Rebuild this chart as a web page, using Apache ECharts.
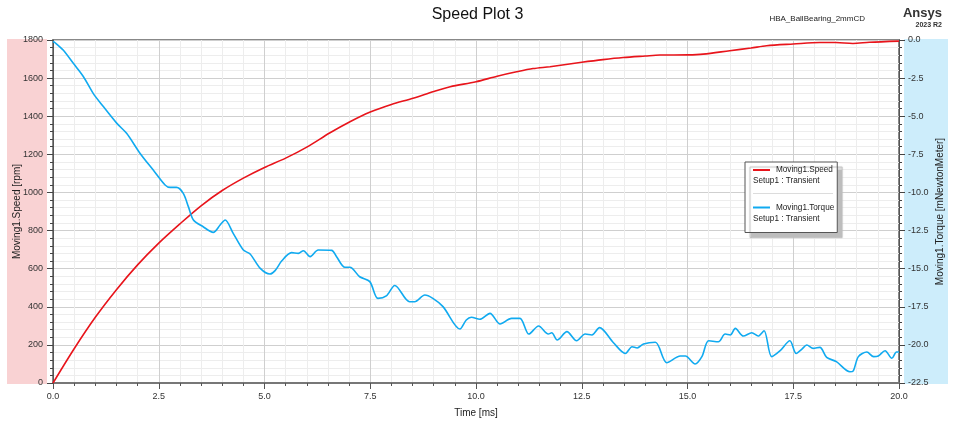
<!DOCTYPE html>
<html>
<head>
<meta charset="utf-8">
<script src="https://cdn.jsdelivr.net/npm/echarts@6/dist/echarts.min.js"></script>
<style>html,body{margin:0;padding:0;background:#fff}#c{width:955px;height:422px}</style>
</head>
<body>
<div id="c"></div>
<script>
// ---- data ----
const speedTime = [0,0.5,1,1.5,2,2.5,3,3.5,4,4.5,5,5.5,6,6.55,7.02,7.5,8,8.51,9,9.39,10,10.5,10.96,11.35,11.75,12.5,13,13.48,14,14.35,15,15.37,16,16.5,16.87,17.5,18.13,18.5,18.91,19.3,20];
const speedRpm = [0,180,345,490,620,734,835,930,1010,1075,1131,1180,1238,1313,1371,1422,1462,1494,1530,1555,1581,1610,1633,1650,1660,1683,1697,1708,1716,1721,1722,1726,1744,1758,1770,1779,1787,1787,1782,1788,1794];
const torqueTime = [0,0.05,0.24,0.48,0.72,0.95,1.19,1.51,1.74,2.06,2.37,2.65,2.77,2.92,3.08,3.2,3.32,3.55,3.79,3.95,4.07,4.26,4.5,4.66,4.9,5.13,5.25,5.41,5.64,5.8,5.92,6.08,6.27,6.59,6.7,6.9,7.02,7.25,7.49,7.68,7.88,8.08,8.43,8.55,8.79,8.98,9.22,9.62,9.77,9.89,10.09,10.33,10.57,10.84,11.04,11.25,11.48,11.71,11.79,11.92,12.15,12.38,12.58,12.74,12.92,13.25,13.53,13.69,13.81,13.96,14.24,14.51,14.83,14.95,15.18,15.34,15.5,15.73,15.89,16.01,16.13,16.32,16.52,16.67,16.81,16.99,17.19,17.42,17.57,17.7,17.82,17.97,18.13,18.29,18.52,18.84,18.92,19.04,19.24,19.4,19.51,19.67,19.83,19.94,20];
const torqueVal = [-0.1,-0.18,-0.66,-1.53,-2.41,-3.5,-4.37,-5.47,-6.12,-7.44,-8.53,-9.51,-9.67,-9.67,-10.06,-10.93,-11.81,-12.25,-12.62,-12.14,-11.81,-12.68,-13.78,-14.04,-14.98,-15.35,-15.13,-14.48,-13.95,-14.0,-13.82,-14.21,-13.78,-13.8,-14.2,-14.91,-14.91,-15.53,-15.85,-16.95,-16.79,-16.1,-17.17,-17.17,-16.73,-16.95,-17.49,-18.96,-18.37,-18.19,-18.32,-17.93,-18.63,-18.26,-18.26,-19.29,-18.76,-19.29,-19.2,-19.68,-19.13,-19.73,-19.29,-19.35,-18.87,-19.86,-20.56,-20.12,-20.2,-19.94,-19.83,-21.17,-20.73,-20.73,-21.25,-20.77,-19.73,-19.79,-19.29,-19.35,-18.92,-19.42,-19.2,-19.42,-19.07,-20.77,-20.38,-19.73,-20.56,-20.29,-20.01,-20.23,-20.16,-20.82,-21.1,-21.76,-21.7,-20.77,-20.47,-20.77,-20.73,-20.38,-20.88,-20.47,-20.47];
const seriesNames = ['Moving1.Speed','Moving1.Torque'];
const setupLabel = 'Setup1 : Transient';
const colors = ['#e8141b','#10aaf0'];

const chart = echarts.init(document.getElementById('c'));
const FONT = 'Liberation Sans, Arial, sans-serif';
const pairs = (xs, ys) => xs.map((x, i) => [x, ys[i]]);

chart.setOption({
  animation: false,
  backgroundColor: '#fff',
  title: [
    {text: 'Speed Plot 3', left: 'center', top: 2, textStyle: {fontFamily: FONT, fontSize: 16, fontWeight: 'normal', color: '#111'}},
    {text: 'HBA_BallBearing_2mmCD', right: 85, top: 10, textStyle: {fontFamily: FONT, fontSize: 8, fontWeight: 'normal', color: '#222'}},
    {text: 'Ansys', right: 8, top: 2, textStyle: {fontFamily: FONT, fontSize: 13, fontWeight: 'bold', color: '#333'}},
    {text: '2023 R2', right: 8, top: 17, textStyle: {fontFamily: FONT, fontSize: 7, fontWeight: 'bold', color: '#333'}}
  ],
  graphic: [
    {type: 'rect', z: -10, shape: {x: 7, y: 39, width: 40, height: 345}, style: {fill: '#f9d2d3'}},
    {type: 'rect', z: -10, shape: {x: 904, y: 39, width: 44, height: 345}, style: {fill: '#cdedfb'}}
  ],
  grid: {left: 53, right: 56, top: 40, bottom: 39, containLabel: false, outerBoundsMode: 'none',
         show: true, borderColor: '#888', borderWidth: 2, backgroundColor: '#fff'},
  legend: {
    orient: 'vertical', left: 745, top: 162,
    backgroundColor: '#fff', borderColor: '#555', borderWidth: 1,
    shadowColor: '#bdbdbd', shadowBlur: 1, shadowOffsetX: 5, shadowOffsetY: 5,
    padding: [4, 3, 10, 3], itemGap: 6,
    itemWidth: 0, itemHeight: 0, icon: 'none',
    formatter: name => {
      const i = seriesNames.indexOf(name);
      let s = `{ln${i}|}{gap|}{t|${name}}\n{s|${setupLabel}}`;
      if (i === 0) s += '\n{sep|}';
      return s;
    },
    textStyle: {
      fontFamily: FONT, fontSize: 8, color: '#222',
      rich: {
        ln0: {width: 17, height: 2, backgroundColor: colors[0], lineHeight: 11},
        ln1: {width: 17, height: 2, backgroundColor: colors[1], lineHeight: 11},
        gap: {width: 6, lineHeight: 11},
        t: {fontFamily: FONT, fontSize: 8.2, color: '#222', lineHeight: 11},
        s: {fontFamily: FONT, fontSize: 8.2, color: '#222', lineHeight: 11},
        sep: {width: 80, height: 1, backgroundColor: '#dcdcdc', lineHeight: 14}
      }
    },
    data: seriesNames
  },
  xAxis: {
    type: 'value', min: 0, max: 20, interval: 2.5,
    name: 'Time [ms]', nameLocation: 'middle', nameGap: 25,
    nameTextStyle: {fontFamily: FONT, fontSize: 10, color: '#222'},
    axisLine: {show: true, lineStyle: {color: '#777', width: 2}},
    axisTick: {show: true, length: 6, lineStyle: {color: '#555'}},
    minorTick: {show: true, splitNumber: 5, length: 3, lineStyle: {color: '#555'}},
    axisLabel: {fontFamily: FONT, fontSize: 9, color: '#333', margin: 9, formatter: v => v.toFixed(1)},
    splitLine: {show: true, lineStyle: {color: '#cfcfcf', width: 1}},
    minorSplitLine: {show: true, lineStyle: {color: '#ededed', width: 1}}
  },
  yAxis: [
    {
      type: 'value', min: 0, max: 1800, interval: 200, position: 'left',
      name: 'Moving1.Speed [rpm]', nameLocation: 'middle', nameGap: 31, nameRotate: 90, nameMoveOverlap: false,
      nameTextStyle: {fontFamily: FONT, fontSize: 10, color: '#222'},
      axisLine: {show: true, lineStyle: {color: '#555', width: 1}},
      axisTick: {show: true, length: 6, lineStyle: {color: '#444'}},
      minorTick: {show: true, splitNumber: 5, length: 3, lineStyle: {color: '#444'}},
      axisLabel: {fontFamily: FONT, fontSize: 9, color: '#333', margin: 10, formatter: v => String(v)},
      splitLine: {show: true, lineStyle: {color: '#cfcfcf', width: 1}},
      minorSplitLine: {show: true, lineStyle: {color: '#ededed', width: 1}}
    },
    {
      type: 'value', min: -22.5, max: 0, interval: 2.5, position: 'right',
      name: 'Moving1.Torque [mNewtonMeter]', nameLocation: 'middle', nameGap: 36, nameRotate: 90, nameMoveOverlap: false,
      nameTextStyle: {fontFamily: FONT, fontSize: 10, color: '#222'},
      axisLine: {show: true, lineStyle: {color: '#555', width: 1}},
      axisTick: {show: true, length: 6, lineStyle: {color: '#444'}},
      minorTick: {show: true, splitNumber: 5, length: 3, lineStyle: {color: '#444'}},
      axisLabel: {fontFamily: FONT, fontSize: 9, color: '#333', margin: 9, formatter: v => v.toFixed(1)},
      splitLine: {show: false},
      minorSplitLine: {show: false}
    }
  ],
  series: [
    {
      name: seriesNames[0], type: 'line', yAxisIndex: 0, showSymbol: false, smooth: 0.3,
      data: pairs(speedTime, speedRpm), color: colors[0],
      lineStyle: {color: colors[0], width: 1.6}
    },
    {
      name: seriesNames[1], type: 'line', yAxisIndex: 1, showSymbol: false, smooth: 0.3,
      data: pairs(torqueTime, torqueVal), color: colors[1],
      lineStyle: {color: colors[1], width: 1.6}
    }
  ]
});
</script>
</body>
</html>
